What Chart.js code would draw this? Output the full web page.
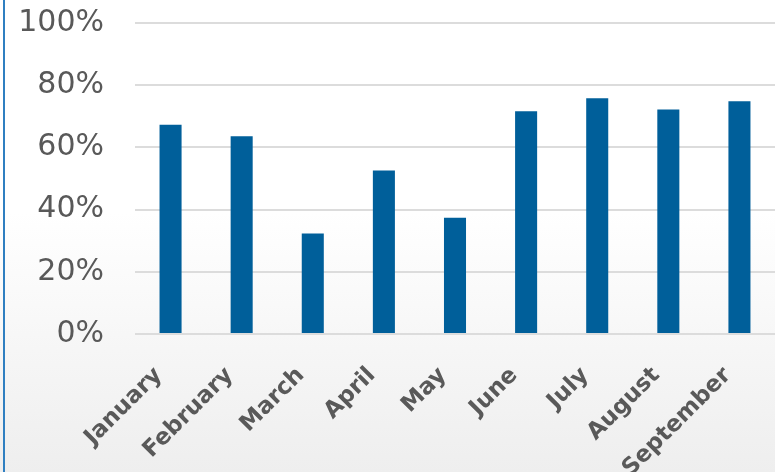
<!DOCTYPE html>
<html>
<head>
<meta charset="utf-8">
<script src="https://cdn.jsdelivr.net/npm/chart.js@4.4.1/dist/chart.umd.min.js"></script>
<style>
  html, body { margin: 0; padding: 0; overflow: hidden; }
  body {
    width: 775px; height: 472px; position: relative;
    background: linear-gradient(to bottom, #ffffff 0%, #ffffff 45%, #eeeeee 100%);
  }
  #edge { position: absolute; left: 3px; top: 0; width: 2px; height: 472px; background: #2f7fc1; }
  canvas { position: absolute; left: 0; top: 0; }
</style>
</head>
<body>
<div id="edge"></div>
<canvas id="chart" width="775" height="472"></canvas>
<script>
// data
var months = ["January", "February", "March", "April", "May", "June", "July", "August", "September"];
var rates = [67.3, 63.6, 32.3, 52.6, 37.4, 71.6, 75.8, 72.2, 74.8];
var yTicks = [0, 20, 40, 60, 80, 100];

var ctx = document.getElementById('chart').getContext('2d');
var chart = new Chart(ctx, {
    type: 'bar',
    data: {
        labels: months,
        datasets: [{
            label: "Rate",
            data: rates,
            backgroundColor: '#005f9a',
            borderWidth: 0,
            barPercentage: 0.31,
            categoryPercentage: 1
        }]
    },
    options: {
        responsive: false,
        animation: false,
        devicePixelRatio: 1,
        layout: { padding: { left: 4, top: 23, right: 0, bottom: 0 } },
        plugins: { legend: { display: false }, tooltip: { enabled: false } },
        scales: {
            x: {
                grid: { display: false },
                border: { display: false },
                ticks: {
                    maxRotation: 45, minRotation: 45,
                    autoSkip: false,
                    padding: 20,
                    labelOffset: -12,
                    color: '#595959',
                    font: { family: 'DejaVu Sans', size: 23, weight: 'bold' }
                },
                afterFit: function (scale) {
                    scale.height = 138;
                    scale.paddingLeft = 0;
                    scale.paddingRight = 0;
                }
            },
            y: {
                min: 0, max: 100,
                afterBuildTicks: function (scale) {
                    scale.ticks = yTicks.map(function (v) { return { value: v }; });
                },
                grid: { color: '#dcdcdc', lineWidth: 2, drawTicks: false },
                border: { display: false },
                ticks: {
                    padding: 31,
                    color: '#595959',
                    font: { family: 'DejaVu Sans', size: 30 },
                    callback: function (v) { return v + '%'; }
                },
                afterFit: function (scale) {
                    scale.width = 131;
                    scale.paddingTop = 0;
                    scale.paddingBottom = 0;
                }
            }
        }
    }
});
</script>
</body>
</html>
